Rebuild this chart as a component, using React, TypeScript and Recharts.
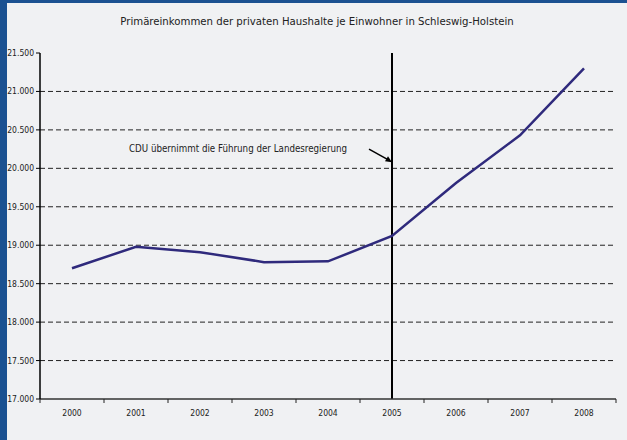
import { LineChart, Line, XAxis, YAxis, CartesianGrid, ReferenceLine, ReferenceDot } from 'recharts'

const YEARS = ['2000', '2001', '2002', '2003', '2004', '2005', '2006', '2007', '2008']
const INCOME = [18700, 18980, 18910, 18780, 18790, 19120, 19810, 20430, 21300]
const Y_TICKS = [17000, 17500, 18000, 18500, 19000, 19500, 20000, 20500, 21000, 21500]
const GRID_LINES = [17500, 18000, 18500, 19000, 19500, 20000, 20500, 21000]

const TITLE = 'Primäreinkommen der privaten Haushalte je Einwohner in Schleswig-Holstein'
const NOTE = 'CDU übernimmt die Führung der Landesregierung'
const NOTE_YEAR = '2005'
const NOTE_VALUE = 20080

const data = YEARS.map((year, i) => ({ year, value: INCOME[i] }))

const FONT = "'DejaVu Sans Condensed', Roboto, sans-serif"
const fmt = (v: number) => v.toLocaleString('de-DE', { minimumFractionDigits: 0 }).replace(/,/g, '.')

// category labels sit in the middle, tick marks on the band edges
function YearTick(props: any) {
  const { x, y, payload, index, width, visibleTicksCount } = props
  const band = width / visibleTicksCount
  const left = x - band / 2
  const last = index === visibleTicksCount - 1
  return (
    <g>
      <line x1={left} x2={left} y1={y} y2={y + 4} stroke="#222" strokeWidth={1} />
      {last && <line x1={x + band / 2} x2={x + band / 2} y1={y} y2={y + 4} stroke="#222" strokeWidth={1} />}
      <text x={x} y={y + 17} textAnchor="middle" fontSize={8.5} fill="#222" fontFamily={FONT}>
        {payload.value}
      </text>
    </g>
  )
}

function Annotation({ cx, cy }: any) {
  if (cx == null || cy == null) return null
  return (
    <g>
      <text x={cx - 263} y={cy - 10} fontSize={9.7} fill="#222" fontFamily={FONT}>
        {NOTE}
      </text>
      <line x1={cx - 23} y1={cy - 13} x2={cx - 5} y2={cy - 3} stroke="#000" strokeWidth={1.5} />
      <polygon points={`${cx},${cy} ${cx - 7},${cy - 1} ${cx - 4},${cy - 6}`} fill="#000" />
    </g>
  )
}

export default function App() {
  return (
    <div style={{ position: 'fixed', left: 0, top: 0, width: 627, height: 440, background: '#f0f1f3', overflow: 'hidden' }}>
      <div style={{ position: 'absolute', left: 0, top: 0, width: 627, height: 3, background: '#1b5191' }} />
      <div style={{ position: 'absolute', left: 0, top: 0, width: 7, height: 440, background: '#1b5191' }} />
      <div
        style={{
          position: 'absolute',
          top: 15,
          left: 7,
          width: 620,
          textAlign: 'center',
          fontFamily: FONT,
          fontSize: 11.3,
          color: '#222',
        }}
      >
        {TITLE}
      </div>
      <LineChart width={627} height={440} data={data} margin={{ top: 53, right: 11, bottom: 11, left: 0 }}>
        <CartesianGrid horizontal vertical={false} horizontalValues={GRID_LINES} stroke="#222" strokeDasharray="5 3" />
        <XAxis
          dataKey="year"
          scale="band"
          height={30}
          axisLine={{ stroke: '#333', strokeWidth: 1.5 }}
          tickLine={false}
          tickSize={0}
          tickMargin={0}
          tick={<YearTick />}
          interval={0}
        />
        <XAxis xAxisId="top" orientation="top" dataKey="year" scale="band" height={0} tick={false} tickLine={false} axisLine={{ stroke: '#8a8a8a' }} />
        <YAxis
          width={40}
          domain={[17000, 21500]}
          ticks={Y_TICKS}
          tickFormatter={fmt}
          tickSize={4}
          axisLine={{ stroke: '#000', strokeWidth: 1.5 }}
          tickLine={{ stroke: '#000' }}
          tick={{ fontSize: 8.5, fill: '#222', fontFamily: FONT }}
        />
        <YAxis yAxisId="right" orientation="right" width={0} domain={[17000, 21500]} tick={false} tickLine={false} axisLine={{ stroke: '#8a8a8a' }} />
        <ReferenceLine x={NOTE_YEAR} stroke="#000" strokeWidth={2} />
        <Line
          type="linear"
          dataKey="value"
          stroke="#2f2a7c"
          strokeWidth={2.5}
          dot={false}
          activeDot={false}
          isAnimationActive={false}
        />
        <ReferenceDot x={NOTE_YEAR} y={NOTE_VALUE} shape={<Annotation />} />
      </LineChart>
    </div>
  )
}
